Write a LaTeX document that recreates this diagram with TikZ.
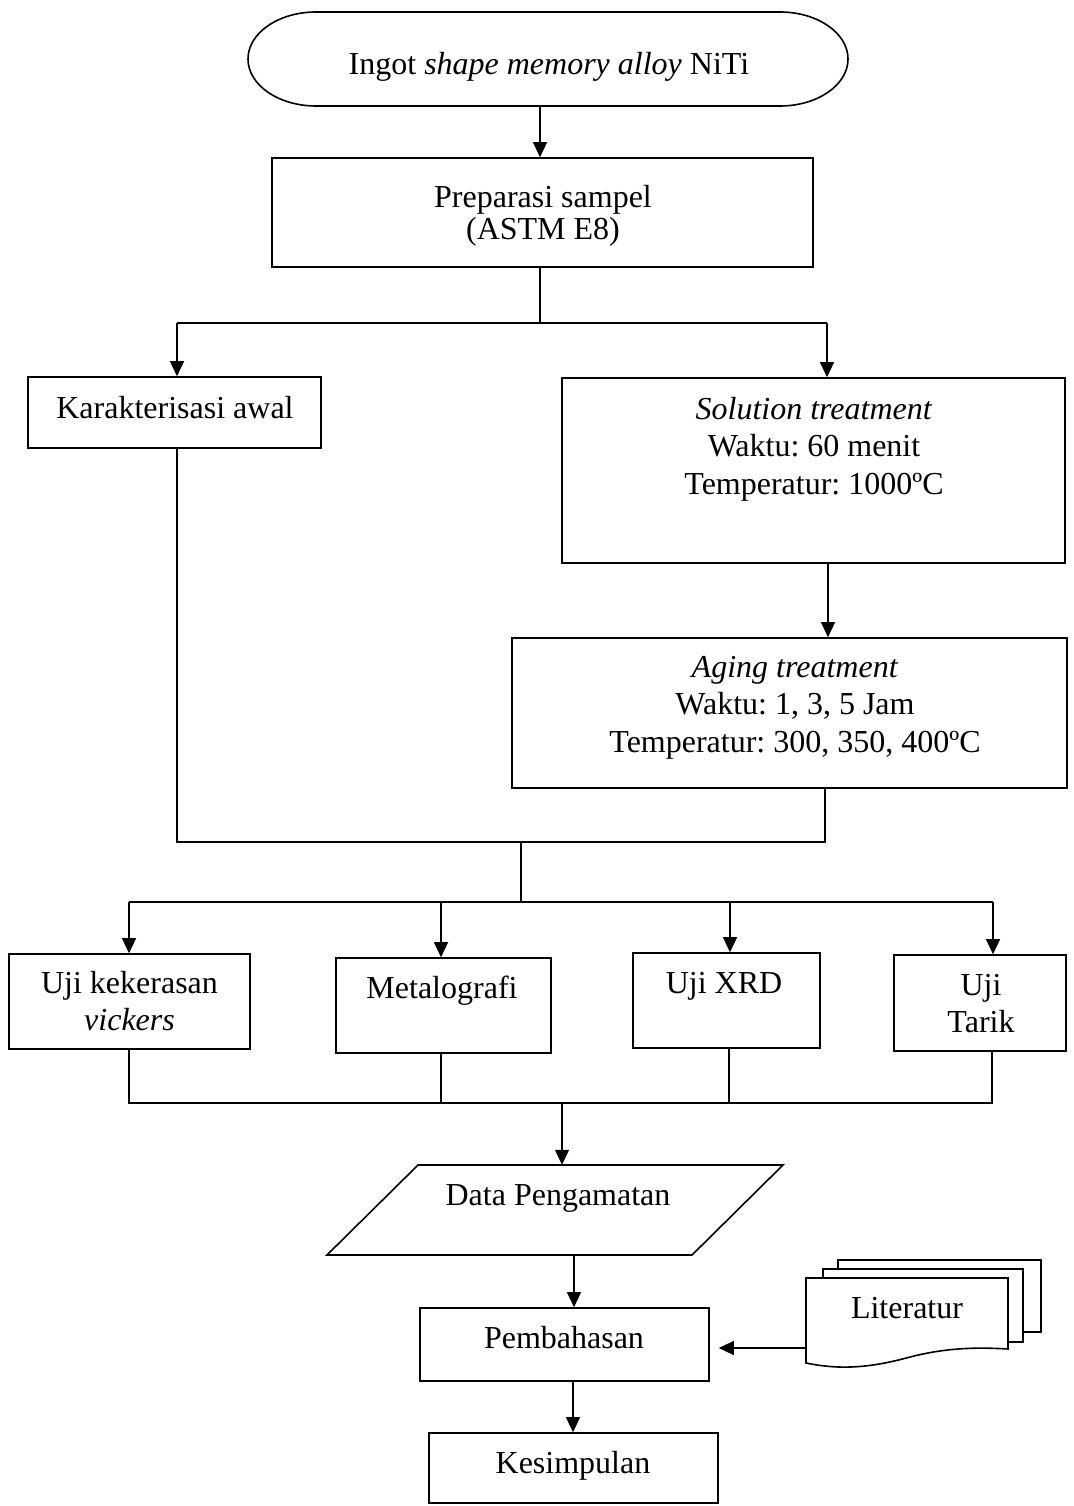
\documentclass[tikz,border=0pt]{standalone}
\usepackage{fontspec}
\setmainfont{Liberation Serif}
\usetikzlibrary{arrows.meta}
\frenchspacing
\begin{document}
\begin{tikzpicture}[x=1pt,y=-1pt,
  every node/.style={font=\fontsize{32}{38}\selectfont, inner sep=0pt},
  box/.style={draw, line width=1.6pt, fill=white},
  shp/.style={draw, line width=1.6pt, fill=white},
  conn/.style={line width=1.2pt},
  arr/.style={conn, -{Triangle[length=15pt,width=14pt]}},
  lbl/.style={anchor=base}]
\useasboundingbox (0,0) rectangle (1073,1506);

% ---------- terminal ----------
\draw[shp] (316,12) -- (780,12) arc[start angle=-90,end angle=90,x radius=68,y radius=47]
  -- (316,106) arc[start angle=90,end angle=270,x radius=68,y radius=47] -- cycle;
\node[minimum width=600pt,minimum height=94pt] (term) at (548,59) {};
\node[lbl] (termt) at (549,75) {Ingot \textit{shape memory alloy} NiTi};

% ---------- boxes ----------
\node[box,minimum width=541pt,minimum height=109pt] (prep) at (542.5,212.5) {};
\node[lbl] (prept1) at (543,208) {Preparasi sampel};
\node[lbl] (prept2) at (543,240) {(ASTM E8)};

\node[box,minimum width=293pt,minimum height=71pt] (kar) at (174.5,412.5) {};
\node[lbl] (kart) at (175,418) {Karakterisasi awal};

\node[box,minimum width=503pt,minimum height=185pt] (sol) at (813.5,470.5) {};
\node[lbl] (solt1) at (814,419) {\textit{Solution treatment}};
\node[lbl] (solt2) at (814,456.5) {Waktu: 60 menit};
\node[lbl] (solt3) at (814,494) {Temperatur: 1000ºC};

\node[box,minimum width=555pt,minimum height=150pt] (aging) at (789.5,713) {};
\node[lbl] (agt1) at (795,677) {\textit{Aging treatment}};
\node[lbl] (agt2) at (795,714.5) {Waktu: 1, 3, 5 Jam};
\node[lbl] (agt3) at (795,752) {Temperatur: 300, 350, 400ºC};

\node[box,minimum width=241pt,minimum height=95pt] (vick) at (129.5,1001.5) {};
\node[lbl] (vickt1) at (129.5,993) {Uji kekerasan};
\node[lbl] (vickt2) at (129.5,1030) {\textit{vickers}};

\node[box,minimum width=215pt,minimum height=95pt] (meta) at (443.5,1005.5) {};
\node[lbl] (metat) at (442,998) {Metalografi};

\node[box,minimum width=187pt,minimum height=95pt] (xrd) at (726.5,1000.5) {};
\node[lbl] (xrdt) at (724,993) {Uji XRD};

\node[box,minimum width=172pt,minimum height=96pt] (tarik) at (980,1003) {};
\node[lbl] (tarikt1) at (981,995) {Uji};
\node[lbl] (tarikt2) at (981,1032) {Tarik};

% ---------- data (parallelogram) ----------
\draw[shp] (418,1165) -- (783,1165) -- (692,1255) -- (327,1255) -- cycle;
\node[minimum width=365pt,minimum height=90pt] (data) at (555,1210) {};
\node[lbl] (datat) at (558,1205) {Data Pengamatan};

\node[box,minimum width=289pt,minimum height=73pt] (pemb) at (564.5,1344.5) {};
\node[lbl] (pembt) at (564,1348) {Pembahasan};

\node[box,minimum width=289pt,minimum height=70pt] (kes) at (573.5,1468) {};
\node[lbl] (kest) at (573,1473) {Kesimpulan};

% ---------- literatur (multi-document) ----------
\draw[shp] (838,1260) rectangle (1041,1332);
\draw[shp] (823,1269) rectangle (1023,1342);
\draw[shp] (806,1278) -- (1008,1278) -- (1008,1349)
  .. controls (975,1347) and (945,1348) .. (910,1357)
  .. controls (870,1368) and (840,1370) .. (806,1363) -- cycle;
\node[lbl] (lit) at (907,1318) {Literatur};
\coordinate (litw) at (806,1348);

% ---------- connectors ----------
\coordinate (xa) at (540,0);
\draw[arr] (term.south -| xa) -- (prep.north -| xa);

\coordinate (j1) at (540,323);
\coordinate (jl) at (177,323);
\coordinate (jr) at (827,323);
\draw[conn] (prep.south -| j1) -- (j1);
\draw[conn] (jl) -- (jr);
\draw[arr] (jl) -- (jl |- kar.north);
\draw[arr] (jr) -- (jr |- sol.north);

\coordinate (xb) at (828,0);
\draw[arr] (sol.south -| xb) -- (aging.north -| xb);

\coordinate (k1) at (177,842);
\coordinate (k2) at (825,842);
\coordinate (k3) at (521,842);
\coordinate (k4) at (521,902);
\draw[conn] (kar.south -| k1) -- (k1) -- (k2) -- (aging.south -| k2);
\draw[conn] (k3) -- (k4);

\coordinate (d1) at (129,902);
\coordinate (d2) at (441,902);
\coordinate (d3) at (730,902);
\coordinate (d4) at (993,902);
\draw[conn] (d1) -- (d4);
\draw[arr] (d1) -- (d1 |- vick.north);
\draw[arr] (d2) -- (d2 |- meta.north);
\draw[arr] (d3) -- (d3 |- xrd.north);
\draw[arr] (d4) -- (d4 |- tarik.north);

\coordinate (e1) at (129,1103);
\coordinate (e2) at (441,1103);
\coordinate (e3) at (729,1103);
\coordinate (e4) at (992,1103);
\coordinate (e5) at (562,1103);
\draw[conn] (vick.south -| e1) -- (e1) -- (e4) -- (tarik.south -| e4);
\draw[conn] (meta.south -| e2) -- (e2);
\draw[conn] (xrd.south -| e3) -- (e3);
\draw[arr] (e5) -- (e5 |- data.north);

\coordinate (xc) at (574,0);
\draw[arr] (data.south -| xc) -- (pemb.north -| xc);
\coordinate (xd) at (573,0);
\draw[arr] (pemb.south -| xd) -- (kes.north -| xd);

\path (pemb.east) ++(9,0) coordinate (pe);
\draw[arr] (litw) -- (pe |- litw);
\end{tikzpicture}
\end{document}
